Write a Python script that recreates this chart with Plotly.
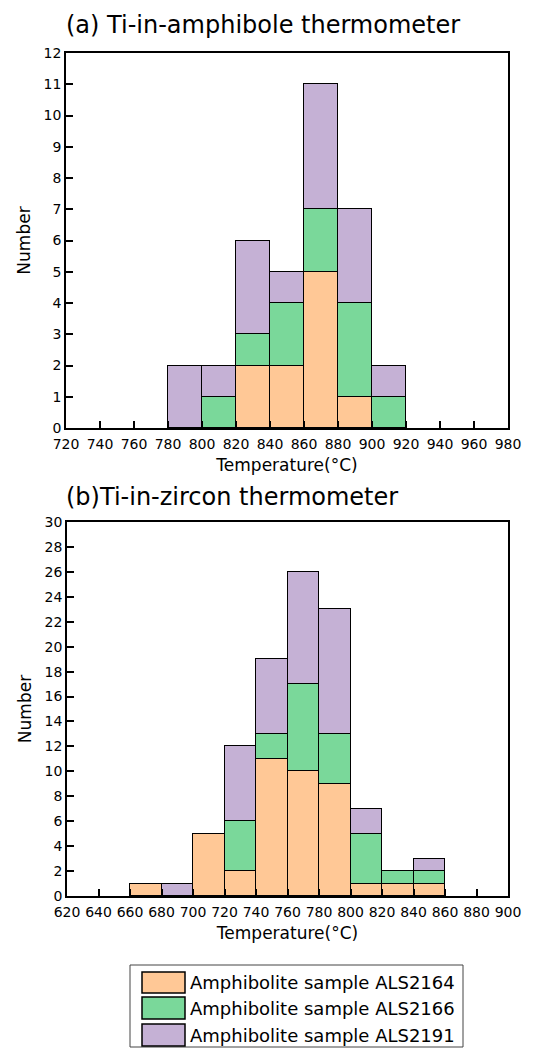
import plotly.graph_objects as go

W, H = 553, 1048

# ---------------- data ----------------
series_names = ["Amphibolite sample ALS2164", "Amphibolite sample ALS2166", "Amphibolite sample ALS2191"]
colors = ["#FFC896", "#7AD89A", "#C5B1D5"]

# (a) Ti-in-amphibole thermometer, bins of 20 °C
amph_bin_left = [780, 800, 820, 840, 860, 880, 900]
amph_ALS2164 = [0, 0, 2, 2, 5, 1, 0]
amph_ALS2166 = [0, 1, 1, 2, 2, 3, 1]
amph_ALS2191 = [2, 1, 3, 1, 4, 3, 1]

# (b) Ti-in-zircon thermometer, bins of 20 °C
zirc_bin_left = [660, 680, 700, 720, 740, 760, 780, 800, 820, 840]
zirc_ALS2164 = [1, 0, 5, 2, 11, 10, 9, 1, 1, 1]
zirc_ALS2166 = [0, 0, 0, 4, 2, 7, 4, 4, 1, 1]
zirc_ALS2191 = [0, 1, 0, 6, 6, 9, 10, 2, 0, 1]

bin_width = 20
amph_xticks = list(range(720, 981, 20))
zirc_xticks = list(range(620, 901, 20))

FONT = "DejaVu Sans, Liberation Sans, Arial, sans-serif"

fig = go.Figure()

def add_stack(xleft, series, xa, ya):
    for name, vals, col in zip(series_names, series, colors):
        fig.add_trace(go.Bar(
            x=[x + bin_width / 2 for x in xleft],
            y=vals,
            width=bin_width,
            name=name,
            marker=dict(color=col, line=dict(color="black", width=1.5)),
            xaxis=xa, yaxis=ya,
            showlegend=False,
        ))

add_stack(amph_bin_left, [amph_ALS2164, amph_ALS2166, amph_ALS2191], "x", "y")
add_stack(zirc_bin_left, [zirc_ALS2164, zirc_ALS2166, zirc_ALS2191], "x2", "y2")

def px_x(p):
    return p / W

def px_y(p):
    return 1 - p / H

axis_common = dict(
    showline=True, linecolor="black", linewidth=1.5, mirror=True,
    ticks="inside", ticklen=7, tickwidth=1.5, tickcolor="black",
    showgrid=False, zeroline=False,
    tickfont=dict(family=FONT, size=14, color="black"),
    automargin=False,
)

fig.update_layout(
    width=W, height=H,
    margin=dict(l=0, r=0, t=0, b=0),
    paper_bgcolor="white", plot_bgcolor="white",
    barmode="stack", bargap=0,
    font=dict(family=FONT, color="black"),
    showlegend=False,
    xaxis=dict(domain=[px_x(66), px_x(508)], anchor="y", range=[720, 980],
               tickvals=amph_xticks, ticklabelstandoff=2,
               title=dict(text="Temperature(°C)", font=dict(size=17, family=FONT), standoff=9),
               **axis_common),
    yaxis=dict(domain=[px_y(428), px_y(53)], anchor="x", range=[0, 12], dtick=1,
               title=dict(text="Number", font=dict(size=17, family=FONT), standoff=9),
               **axis_common),
    xaxis2=dict(domain=[px_x(67), px_x(508)], anchor="y2", range=[620, 900],
                tickvals=zirc_xticks, ticklabelstandoff=2,
                title=dict(text="Temperature(°C)", font=dict(size=17, family=FONT), standoff=9),
                **axis_common),
    yaxis2=dict(domain=[px_y(896), px_y(522)], anchor="x2", range=[0, 30], dtick=2,
                title=dict(text="Number", font=dict(size=17, family=FONT), standoff=9),
                **axis_common),
)

annotations = [
    dict(text="(a) Ti-in-amphibole thermometer", x=px_x(64), y=px_y(25), xref="paper", yref="paper",
         xanchor="left", yanchor="middle", showarrow=False,
         font=dict(family=FONT, size=24, color="black")),
    dict(text="(b)Ti-in-zircon thermometer", x=px_x(64), y=px_y(497), xref="paper", yref="paper",
         xanchor="left", yanchor="middle", showarrow=False,
         font=dict(family=FONT, size=24, color="black")),
]

shapes = [
    dict(type="rect", xref="paper", yref="paper",
         x0=px_x(130), x1=px_x(463), y0=px_y(1047), y1=px_y(965),
         line=dict(color="#444444", width=1), fillcolor="white", layer="below"),
]
legend_rows = [(972, 993), (997, 1019), (1024, 1046)]
for (y0, y1), name, col in zip(legend_rows, series_names, colors):
    shapes.append(dict(type="rect", xref="paper", yref="paper",
                       x0=px_x(142), x1=px_x(185), y0=px_y(y1), y1=px_y(y0),
                       line=dict(color="black", width=1.5), fillcolor=col))
    annotations.append(dict(text=name, x=px_x(188), y=px_y((y0 + y1) / 2), xref="paper", yref="paper",
                            xanchor="left", yanchor="middle", showarrow=False,
                            font=dict(family=FONT, size=18, color="black")))

fig.update_layout(annotations=annotations, shapes=shapes)

fig.write_html("out.html")
